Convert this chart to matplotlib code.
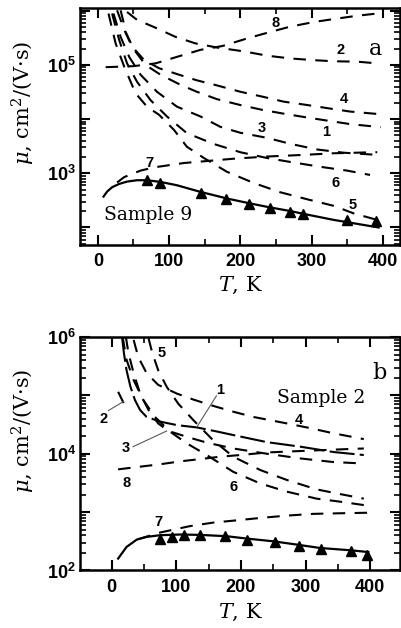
import numpy as np
import matplotlib
matplotlib.use('Agg')
import matplotlib.pyplot as plt
from matplotlib.ticker import LogLocator, NullFormatter, MultipleLocator

plt.rcParams['font.family'] = ['Liberation Sans', 'DejaVu Sans']
plt.rcParams['font.weight'] = 'bold'
plt.rcParams['mathtext.fontset'] = 'custom'
plt.rcParams['mathtext.rm'] = 'DejaVu Serif:weight=normal'
plt.rcParams['mathtext.it'] = 'DejaVu Serif:style=italic:weight=normal'
plt.rcParams['mathtext.bf'] = 'Liberation Sans:weight=bold'

# ---------------- panel a (Sample 9) ----------------
a_T1 = [32, 40, 51, 67, 88, 116, 139, 167, 200, 231, 261, 294, 324, 354, 397]
a_mu1 = [1.02e6, 3.8e5, 1.9e5, 1.0e5, 6.6e4, 4.3e4, 3.2e4, 2.34e4, 1.82e4, 1.48e4, 1.26e4, 1.07e4, 9.3e3, 8.1e3, 7.1e3]
a_T2 = [41, 55, 79, 109, 137, 167, 205, 238, 270, 301, 331, 364, 392]
a_mu2 = [9.5e5, 6.8e5, 5.0e5, 3.3e5, 2.5e5, 2.1e5, 1.78e5, 1.48e5, 1.32e5, 1.23e5, 1.17e5, 1.15e5, 1.07e5]
a_T3 = [22, 32, 44, 60, 83, 111, 144, 172, 200, 238, 270, 308, 345, 392]
a_mu3 = [8.9e5, 3.3e5, 1.41e5, 6.6e4, 3.2e4, 1.7e4, 1.12e4, 7.2e3, 5.6e3, 4.5e3, 3.5e3, 2.75e3, 2.4e3, 2.19e3]
a_T4 = [27, 37, 48, 65, 86, 111, 139, 167, 200, 231, 261, 294, 324, 354, 397]
a_mu4 = [1.02e6, 4.47e5, 2.19e5, 1.23e5, 8.7e4, 6.8e4, 5.2e4, 4.2e4, 3.2e4, 2.6e4, 2.1e4, 1.82e4, 1.58e4, 1.38e4, 1.23e4]
a_T5 = [15, 25, 37, 53, 69, 86, 107, 125, 149, 181, 219, 256, 294, 331, 359, 392]
a_mu5 = [8.9e5, 2.5e5, 9.3e4, 3.0e4, 1.7e4, 1.2e4, 6.3e3, 3.09e3, 1.91e3, 1.07e3, 661, 447, 331, 251, 182, 138]
a_T6 = [20, 30, 41, 55, 74, 97, 125, 163, 200, 238, 275, 312, 350, 382]
a_mu6 = [8.9e5, 2.88e5, 1.07e5, 4.9e4, 2.24e4, 1.12e4, 5.5e3, 3.47e3, 2.45e3, 1.91e3, 1.58e3, 1.32e3, 1.12e3, 933]
a_T7 = [27, 37, 60, 79, 121, 191, 238, 289, 331, 392]
a_mu7 = [676, 851, 1122, 1288, 1549, 1862, 2042, 2188, 2344, 2455]
a_T8 = [11, 50, 81, 111, 144, 175, 210, 240, 270, 303, 333, 364, 392]
a_mu8 = [9.1e4, 9.5e4, 1.07e5, 1.41e5, 1.9e5, 2.24e5, 3.1e5, 4.0e5, 5.1e5, 6.2e5, 7.1e5, 8.1e5, 8.9e5]
a_Tfit = [8, 13, 20, 30, 41, 55, 69, 88, 111, 144, 182, 212, 240, 271, 289, 331, 394]
a_mufit = [372, 459, 553, 637, 703, 745, 745, 693, 602, 454, 341, 281, 237, 200, 178, 138, 100]
a_Texp = [69, 87, 145, 180, 212, 241, 269, 288, 350, 391]
a_muexp = [745, 675, 440, 333, 276, 233, 196, 176, 138, 129]

a_labels = ['8', '2', '4', '1', '3', '7', '6', '5']
a_lab_T = [249, 340, 345, 321, 230, 72, 333, 357]
a_lab_mu = [5.9e5, 1.9e5, 2.4e4, 5.9e3, 6.8e3, 1.58e3, 661, 263]

# ---------------- panel b (Sample 2) ----------------
b_T1 = [16, 19, 23, 29, 36, 44, 54, 75, 101, 132, 163, 188, 240, 292, 343, 390]
b_mu1 = [1.0e6, 5.25e5, 2.69e5, 1.41e5, 8.3e4, 5.6e4, 4.27e4, 3.55e4, 3.09e4, 2.82e4, 2.4e4, 2.09e4, 1.58e4, 1.32e4, 1.07e4, 9.5e3]
b_T2 = [10, 19]
b_mu2 = [1.15e5, 7.2e4]
b_T3 = [22, 26, 34, 44, 57, 72, 88, 116, 147, 188, 240, 292, 343, 390]
b_mu3 = [1.0e6, 5.25e5, 2.4e5, 1.07e5, 5.6e4, 3.3e4, 2.45e4, 1.95e4, 1.55e4, 1.23e4, 1.0e4, 8.3e3, 7.2e3, 6.8e3]
b_T4 = [34, 41, 54, 72, 101, 126, 157, 188, 219, 266, 302, 343, 390]
b_mu4 = [8.9e5, 4.57e5, 2.4e5, 1.51e5, 1.07e5, 8.5e4, 6.6e4, 5.25e4, 4.27e4, 3.39e4, 2.82e4, 2.24e4, 1.78e4]
b_T5 = [57, 63, 72, 85, 103, 126, 157, 188, 230, 271, 317, 353, 390]
b_mu5 = [9.5e5, 5.25e5, 2.69e5, 1.41e5, 7.2e4, 3.8e4, 1.7e4, 8.9e3, 5.25e3, 3.55e3, 2.45e3, 2.04e3, 1.7e3]
b_T6 = [17, 23, 34, 49, 67, 90, 116, 147, 188, 230, 271, 317, 353, 390]
b_mu6 = [1.0e6, 4.07e5, 1.82e5, 8.3e4, 4.27e4, 2.4e4, 1.51e4, 9.5e3, 4.9e3, 3.09e3, 2.24e3, 1.7e3, 1.51e3, 1.32e3]
b_T7 = [41, 75, 121, 157, 194, 230, 271, 312, 353, 400]
b_mu7 = [343, 447, 575, 661, 724, 794, 871, 933, 955, 977]
b_T8 = [10, 44, 75, 106, 137, 168, 199, 240, 281, 323, 364, 390]
b_mu8 = [5.4e3, 6.0e3, 6.6e3, 7.4e3, 8.1e3, 8.9e3, 9.5e3, 1.05e4, 1.1e4, 1.15e4, 1.2e4, 1.23e4]
b_Tfit = [10, 23, 39, 54, 75, 106, 137, 178, 209, 250, 286, 322, 369, 397]
b_mufit = [160, 253, 339, 376, 402, 413, 407, 386, 352, 316, 278, 243, 222, 207]
b_Texp = [75, 94, 112, 137, 176, 210, 253, 289, 324, 370, 395]
b_muexp = [352, 376, 402, 402, 391, 330, 309, 263, 237, 216, 182]

b_labels = ['1', '2', '3', '4', '5', '6', '7', '8']
b_lab_T = [168, -13, 22, 289, 77, 188, 72, 23]
b_lab_mu = [1.23e5, 4.0e4, 1.23e4, 3.8e4, 5.25e5, 2.7e3, 676, 3.1e3]
# pointer lines: label -> curve
b_ptr_T = [(162, 132), (-5, 18), (33, 85)]
b_ptr_mu = [(9.8e4, 2.9e4), (5.5e4, 7.8e4), (1.32e4, 2.45e4)]

DASH = (0, (6, 4.5))
SERIF = 'DejaVu Serif'

fig = plt.figure(figsize=(4.01, 6.28), dpi=100)
ax_a = fig.add_axes([0.1995, 0.6099, 0.798, 0.3769])
ax_b = fig.add_axes([0.1995, 0.0916, 0.798, 0.3718])


def style(ax, yt, ylab):
    ax.set_yscale('log')
    ax.set_yticks(yt, ylab)
    ax.yaxis.set_minor_locator(LogLocator(base=10, subs=np.arange(2, 10)))
    ax.yaxis.set_minor_formatter(NullFormatter())
    ax.set_xticks([0, 100, 200, 300, 400])
    ax.xaxis.set_minor_locator(MultipleLocator(50))
    ax.tick_params(which='both', direction='in', top=True, right=True)
    ax.tick_params(which='major', length=7, width=1.5, labelsize=13)
    ax.tick_params(which='minor', length=4, width=1.2)
    ax.tick_params(axis='x', pad=6)
    ax.tick_params(axis='y', pad=3)
    for s in ax.spines.values():
        s.set_linewidth(1.8)
    ax.set_xlabel(r'$T$, K', family=SERIF, weight='normal', fontsize=15)
    ax.set_ylabel(r'$\mu$, cm$^2$/(V·s)', family=SERIF, weight='normal', fontsize=15)
    ax.yaxis.set_label_coords(-0.135, 0.6)


# panel a
for T, mu in [(a_T1, a_mu1), (a_T2, a_mu2), (a_T3, a_mu3), (a_T4, a_mu4),
              (a_T5, a_mu5), (a_T6, a_mu6), (a_T7, a_mu7), (a_T8, a_mu8)]:
    ax_a.plot(T, mu, color='black', lw=1.5, ls=DASH)
ax_a.plot(a_Tfit, a_mufit, color='black', lw=1.6)
ax_a.plot(a_Texp, a_muexp, ls='none', marker='^', ms=6.5, color='black')
for s, x, y in zip(a_labels, a_lab_T, a_lab_mu):
    ax_a.text(x, y, s, fontsize=10.5, ha='center', va='center')
ax_a.text(8, 170, 'Sample 9', family=SERIF, weight='normal', fontsize=13.5, ha='left', va='center')
ax_a.text(389, 2.0e5, 'a', family=SERIF, weight='normal', fontsize=16, ha='center', va='center')
ax_a.set_xlim(-25, 424)
ax_a.set_ylim(10 ** 1.677, 10 ** 6.046)
style(ax_a, [1e2, 1e3, 1e4, 1e5, 1e6],
      ['', r'$\mathbf{10^{3}}$', '', r'$\mathbf{10^{5}}$', ''])
ax_a.xaxis.set_label_coords(0.5, -0.125)

# panel b
for T, mu in [(b_T2, b_mu2), (b_T3, b_mu3), (b_T4, b_mu4),
              (b_T5, b_mu5), (b_T6, b_mu6), (b_T7, b_mu7), (b_T8, b_mu8)]:
    ax_b.plot(T, mu, color='black', lw=1.5, ls=DASH)
ax_b.plot(b_T1, b_mu1, color='black', lw=1.5, ls=(0, (12, 2.5)))
ax_b.plot(b_Tfit, b_mufit, color='black', lw=1.6)
ax_b.plot(b_Texp, b_muexp, ls='none', marker='^', ms=6.5, color='black')
for T, mu in zip(b_ptr_T, b_ptr_mu):
    ax_b.plot(T, mu, color='0.35', lw=0.8)
for s, x, y in zip(b_labels, b_lab_T, b_lab_mu):
    ax_b.text(x, y, s, fontsize=10.5, ha='center', va='center')
ax_b.text(393, 8.9e4, 'Sample 2', family=SERIF, weight='normal', fontsize=13.5, ha='right', va='center')
ax_b.text(414, 2.4e5, 'b', family=SERIF, weight='normal', fontsize=16, ha='center', va='center')
ax_b.set_xlim(-49, 446)
ax_b.set_ylim(1e2, 1e6)
style(ax_b, [1e2, 1e3, 1e4, 1e5, 1e6],
      [r'$\mathbf{10^{2}}$', '', r'$\mathbf{10^{4}}$', '', r'$\mathbf{10^{6}}$'])
ax_b.xaxis.set_label_coords(0.5, -0.135)

fig.savefig('out.png', dpi=100)
